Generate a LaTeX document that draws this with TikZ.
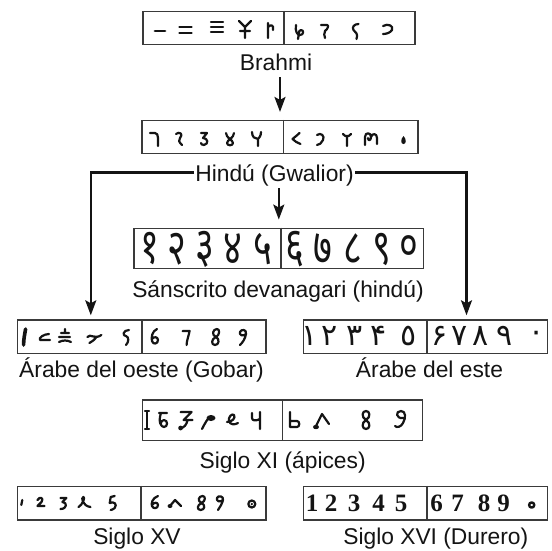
\documentclass[tikz,border=0pt]{standalone}
\usepackage{fontspec}
\setmainfont{Liberation Sans}
\newfontfamily\devfont[Script=Devanagari]{Noto Sans}
\newfontfamily\arfont[Script=Arabic]{DejaVu Sans}
\newfontfamily\durfont{Liberation Serif}
\usetikzlibrary{arrows.meta}

\definecolor{ink}{HTML}{141414}
\definecolor{frame}{HTML}{3A3A3A}

\tikzset{
  numbox/.style={draw=frame, line width=1.5pt, inner sep=0pt},
  divider/.style={draw=frame, line width=1.5pt},
  lab/.style={font=\fontsize{22.8}{26}\selectfont, text=ink, inner sep=1.5pt,
              text height=16pt, text depth=5pt, anchor=base},
  link/.style={draw=ink, line width=2.2pt},
  arr/.style={link, -{Stealth[length=15pt,width=11pt,inset=3pt]}},
  g/.style={draw=ink, line width=2.2pt, line cap=round, line join=round},
  dev/.style={font=\devfont\fontsize{38}{38}\selectfont, text=ink, inner sep=0pt,
              transform shape, xscale=0.95, yscale=1.3},
  arab/.style={font=\arfont\fontsize{30}{30}\selectfont, text=ink, inner sep=0pt},
  durer/.style={font=\durfont\bfseries\fontsize{25}{25}\selectfont, text=ink, inner sep=0pt},
}

\begin{document}
\begin{tikzpicture}[x=1pt,y=-1pt]
\useasboundingbox (0,0) rectangle (552,550);
\fill[white] (0,0) rectangle (552,550);

% ---- numeral strips ----
\node[numbox, minimum width=272pt,   minimum height=32.6pt] (brahmi) at (279,28)      {};
\node[numbox, minimum width=276pt,   minimum height=32.6pt] (hindu)  at (280,137)     {};
\node[numbox, minimum width=289.6pt, minimum height=40pt]   (sans)   at (278.8,248.3) {};
\node[numbox, minimum width=248.4pt, minimum height=33.3pt] (oeste)  at (141.8,336.7) {};
\node[numbox, minimum width=244pt,   minimum height=33.3pt] (este)   at (425.5,336.7) {};
\node[numbox, minimum width=280pt,   minimum height=40.7pt] (xi)     at (282.5,420.3) {};
\node[numbox, minimum width=248.4pt, minimum height=33.3pt] (xv)     at (141.8,503.3) {};
\node[numbox, minimum width=244pt,   minimum height=33.3pt] (xvi)    at (425.5,503.3) {};

% each strip is split between the digits 1-5 and 6-0
\foreach \b/\d in {brahmi/5, hindu/3.5, sans/2.2, oeste/0.2, este/1.5, xi/0.2, xv/-0.8, xvi/1.5}
  \draw[divider] ([xshift=\d pt]\b.north) -- ([xshift=\d pt]\b.south);

% ---- captions ----
\node[lab] (lbrahmi) at (276,70.5)    {Brahmi};
\node[lab] (lhindu)  at (274.5,181.5) {Hindú (Gwalior)};
\node[lab] (lsans)   at (278,297)     {Sánscrito devanagari (hindú)};
\node[lab] (loeste)  at (141.5,377.5) {Árabe del oeste (Gobar)};
\node[lab] (leste)   at (429.5,377.5) {Árabe del este};
\node[lab] (lxi)     at (282.7,468)   {Siglo XI (ápices)};
\node[lab] (lxv)     at (137,544)     {Siglo XV};
\node[lab] (lxvi)    at (435.8,544)   {Siglo XVI (Durero)};

% ---- lines of descent ----
\draw[arr, shorten >=8pt] (hindu.north |- lbrahmi.south) -- (hindu.north);
\draw[arr, shorten >=8pt] (sans.north |- lhindu.south) -- (sans.north);
\draw[arr, shorten >=4pt] ([yshift=3.5pt]lhindu.west) -| ([xshift=-51pt]oeste.north);
\draw[arr, shorten >=4pt] ([yshift=3.5pt]lhindu.east) -| ([xshift=41pt]este.north);

% ---- Brahmi numerals ----
\draw[g, line width=2.8pt, shift={(160,31)}] (-5,0) -- (5,0);
\draw[g, line width=2.6pt, shift={(185.5,29)}] (-6,-2) -- (6,-2) (-6,4) -- (6,4);
\draw[g, shift={(217,28)}] (-6,-6) -- (6,-6) (-6,-1) -- (6,-1) (-6,4) -- (6,4);
\draw[g, shift={(245,29)}] (-6,-8) -- (0,-2) -- (6,-8) (0,-2) -- (0,9) (-5,2) -- (5,2);
\draw[g, shift={(270,30)}] (-2,-7) -- (-2,8) (-2,-3) .. controls (1,-6) and (4,-5) .. (3,0);
\draw[g, shift={(299,30)}] (-3,-5) .. controls (-4,1) and (-2,5) .. (1,5) .. controls (5,5) and (5,0) .. (2,0) .. controls (-1,0) and (0,6) .. (-1,9);
\draw[g, shift={(325,30)}] (-4,-5) -- (2,-5) .. controls (4,-5) and (3,-1) .. (0,1) .. controls (-1,3) and (-1,6) .. (0,8);
\draw[g, shift={(355.5,30)}] (3,-6) .. controls (-1,-6) and (-4,-3) .. (-2,0) .. controls (0,2) and (3,4) .. (1,9);
\draw[g, shift={(388,30)}] (-5,-4) .. controls (0,-7) and (6,-4) .. (4,0) .. controls (2,3) and (-2,4) .. (-5,4);

% ---- Gwalior numerals ----
\draw[g, shift={(154,139)}] (-4,-6) -- (1,-6) .. controls (3,-6) and (4,-4) .. (4,-1) -- (4,7);
\draw[g, shift={(179,139)}] (-3,-5) .. controls (0,-8) and (5,-5) .. (1,-1) .. controls (-1,1) and (0,3) .. (3,6);
\draw[g, shift={(204,139)}] (-3,-6) -- (3,-6) -- (-1,-1) .. controls (4,-1) and (5,5) .. (0,6) .. controls (-2,6) and (-3,5) .. (-3,4);
\draw[g, shift={(230,139)}] (-4,-6) .. controls (-4,-1) and (3,1) .. (3,4) .. controls (3,7) and (-3,7) .. (-3,4) .. controls (-3,1) and (4,-1) .. (4,-6);
\draw[g, shift={(257,139)}] (-5,-7) .. controls (-5,-2) and (-2,0) .. (1,0) (4,-7) .. controls (4,-3) and (2,-1) .. (1,0) -- (1,7);
\draw[g, shift={(296.5,139)}] (3,-6) .. controls (0,-3) and (-3,-1) .. (-4,0) .. controls (-2,2) and (1,4) .. (4,5);
\draw[g, shift={(320,139)}] (-3,-4) .. controls (1,-7) and (5,-3) .. (3,1) .. controls (2,4) and (-1,6) .. (-3,6);
\draw[g, shift={(347,139)}] (-4,-5) .. controls (-2,-2) and (2,-2) .. (4,-5) (0,-3) -- (0,7);
\draw[g, shift={(371,139)}] (-6,6) -- (-6,-2) .. controls (-6,-7) and (0,-7) .. (0,-2) .. controls (0,2) and (-3,2) .. (-3,-1) (0,-2) .. controls (1,-6) and (6,-6) .. (6,-1) -- (6,5);
\fill[ink, shift={(403.5,140)}] (0,-4) .. controls (3,-1) and (3,4) .. (0,4) .. controls (-3,4) and (-3,-1) .. (0,-4) -- cycle;

% ---- Devanagari numerals ----
\foreach \x/\c [count=\i] in {150/१,177/२,205/३,233/४,263/५,295/६,323/७,353/८,382/९,409/०}
  \node[dev] (d\i) at (\x,249) {\c};

% ---- Western Arabic (Gobar) numerals ----
\draw[g, line width=3.6pt, shift={(24.6,337)}] (1,-8) .. controls (0,-2) and (-1,2) .. (-1,8);
\draw[g, shift={(44,337)}] (5,-3) .. controls (0,-3) and (-6,1) .. (-4,3) -- (6,3);
\draw[g, shift={(65,337)}] (0,-8) -- (0,-4) (-4,-4) -- (4,-4) (-6,0) -- (5,0) (-6,5) .. controls (-2,3) and (2,3) .. (6,5);
\draw[g, shift={(94.4,337)}] (-7,0) .. controls (-4,-4) and (0,3) .. (7,-2) (2,0) .. controls (0,3) and (-3,5) .. (-5,6);
\draw[g, shift={(126,337)}] (3,-7) .. controls (-3,-7) and (-4,-1) .. (0,-1) .. controls (3,0) and (3,5) .. (0,8);
\draw[g, shift={(155,337)}] (2,-8) .. controls (-3,-6) and (-4,1) .. (-3,4) .. controls (-2,8) and (3,7) .. (3,3) .. controls (3,0) and (-1,-1) .. (-3,2);
\draw[g, shift={(186.6,337)}] (-4,-6) -- (3,-6) .. controls (2,-1) and (0,4) .. (0,8);
\draw[g, shift={(215,337)}] (1,0) .. controls (-4,-2) and (-2,-8) .. (2,-8) .. controls (5,-8) and (5,-2) .. (1,0) .. controls (-4,2) and (-4,8) .. (0,8) .. controls (4,8) and (5,2) .. (1,0);
\draw[g, shift={(243,337)}] (3,-3) .. controls (0,0) and (-4,-2) .. (-3,-5) .. controls (-2,-8) and (4,-8) .. (3,-3) .. controls (2,2) and (0,5) .. (-3,8);

% ---- Eastern Arabic numerals ----
\foreach \x/\c [count=\i] in {310/١,330/٢,354.6/٣,378.5/۴,408.5/٥,439.4/۶,459.5/٧,481/٨,505/٩,537/٠}
  \node[arab] (a\i) at (\x,336) {\c};

% ---- 11th-century apices ----
\draw[g, shift={(147,420)}] (0,-9) -- (0,9) (-2,-9) -- (2,-9) (-2,9) -- (2,9);
\draw[g, shift={(163,420)}] (-4,-7) -- (4,-7) (-2,-7) .. controls (-5,2) and (-2,7) .. (1,7) .. controls (5,7) and (5,0) .. (1,0) .. controls (-1,0) and (-2,2) .. (-2,3);
\draw[g, shift={(186.6,420)}] (-6,-8) -- (5,-8) -- (-3,0) -- (6,0) (1,0) .. controls (0,5) and (-3,8) .. (-6,8);
\fill[ink, shift={(186.6,420)}] (-6,8) circle (2.4pt);
\draw[g, shift={(211,420)}] (-9,9) .. controls (-6,3) and (-3,-2) .. (-1,-3);
\fill[ink, shift={(211,420)}] (0,-2) ellipse (4.5pt and 3pt);
\draw[g, shift={(232,420)}] (-5,2) .. controls (0,2) and (4,-2) .. (2,-5) .. controls (0,-7) and (-4,-3) .. (-3,1) .. controls (-2,5) and (3,5) .. (6,3);
\draw[g, shift={(256,420)}] (-4,-7) -- (-4,-2) .. controls (-4,1) and (0,1) .. (4,-1) (4,-8) -- (4,9);
\draw[g, shift={(294,420)}] (-4,-8) -- (-4,7) -- (3,7) .. controls (6,7) and (6,1) .. (3,1) -- (-4,1);
\draw[g, shift={(322,420)}] (-7,8) -- (0,-6) -- (7,4);
\fill[ink, shift={(322,420)}] (-6,7) ellipse (3pt and 2.2pt);
\draw[g, shift={(366,420)}] (0,0) .. controls (-5,-3) and (-4,-9) .. (0,-9) .. controls (4,-9) and (5,-3) .. (0,0) .. controls (-5,3) and (-4,9) .. (0,9) .. controls (4,9) and (5,3) .. (0,0);
\draw[g, shift={(400,420)}] (3,-2) .. controls (-4,-1) and (-5,-9) .. (1,-9) .. controls (6,-9) and (6,-2) .. (3,3) .. controls (1,7) and (-3,8) .. (-5,6);

% ---- 15th-century numerals ----
\draw[g, shift={(21.8,503)}] (0.5,-3) -- (-0.5,2);
\draw[g, shift={(40.5,503)}] (-3,-3) .. controls (-1,-7) and (4,-5) .. (1,-1) .. controls (0,0) and (-2,2) .. (-3,3) -- (4,3);
\draw[g, shift={(63.4,503)}] (-3,-5) -- (3,-5) -- (-1,-1) .. controls (4,-1) and (4,6) .. (-3,6);
\draw[g, shift={(84.5,503)}] (-6,4) .. controls (-2,2) and (1,-6) .. (-1,-6) .. controls (-4,-6) and (-2,3) .. (6,4);
\draw[g, shift={(112.7,503)}] (2,-7) -- (-2,-6) -- (-3,0) .. controls (1,-2) and (5,1) .. (2,5) .. controls (1,6) and (-1,7) .. (-2,7);
\draw[g, shift={(155,503)}] (3,-7) .. controls (-3,-5) and (-4,1) .. (-3,3) .. controls (-2,6) and (3,6) .. (3,2) .. controls (3,-1) and (-1,-1) .. (-3,2);
\draw[g, shift={(176,503)}] (-6,3) -- (-1,-3) -- (5,3);
\fill[ink, shift={(176,503)}] (-6,3) ellipse (2.5pt and 2pt);
\draw[g, shift={(200.7,503)}] (1,0) .. controls (-4,-2) and (-2,-7) .. (2,-7) .. controls (5,-7) and (5,-2) .. (1,0) .. controls (-4,2) and (-4,7) .. (0,7) .. controls (4,7) and (5,2) .. (1,0);
\draw[g, shift={(220,503)}] (3,-3) .. controls (0,0) and (-4,-2) .. (-3,-5) .. controls (-2,-8) and (4,-7) .. (3,-3) .. controls (2,1) and (0,4) .. (-2,7);
\draw[g] (251.8,504) circle (3.5pt);
\fill[ink] (251.8,504) circle (1.3pt);

% ---- Duerer's numerals ----
\foreach \x/\c [count=\i] in {312/1,331/2,354/3,378.5/4,401/5,436.6/6,457.7/7,484/8,503.5/9}
  \node[durer] (r\i) at (\x,503) {\c};
\draw[g, line width=2.4pt] (531.7,505) circle (2.6pt);

\end{tikzpicture}
\end{document}
